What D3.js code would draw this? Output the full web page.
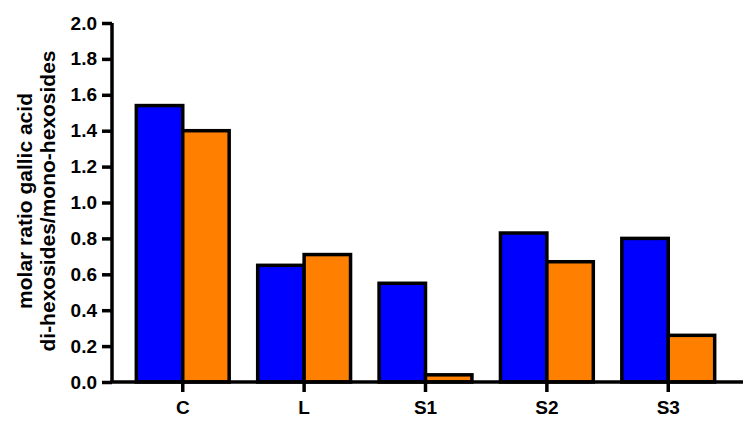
<!DOCTYPE html>
<html><head><meta charset="utf-8">
<script src="https://cdn.jsdelivr.net/npm/d3@7"></script>
<style>body{margin:0;background:#fff}</style>
</head><body>
<svg id="c" width="749" height="429"></svg>
<script>
const categories = ["C","L","S1","S2","S3"];
const seriesNames = ["blue","orange"];
const blueValues = [1.54,0.65,0.55,0.83,0.80];
const orangeValues = [1.40,0.71,0.04,0.67,0.26];
const yTicks = [0,0.2,0.4,0.6,0.8,1.0,1.2,1.4,1.6,1.8,2.0];
const colors = ["#0000ff","#ff8000"];

const svg = d3.select("#c");
const x0 = 122, x1 = 729, yTop = 23, yBot = 382;
const x = d3.scaleBand().domain(categories).range([x0, x1]).paddingInner(0.235).paddingOuter(0.118);
const xs = d3.scaleBand().domain(seriesNames).range([0, x.bandwidth()]);
const y = d3.scaleLinear().domain([0,2]).range([yBot, yTop]);
const font = "'Liberation Sans', Arial, sans-serif";

const data = categories.map((c,i)=>({c, v:[blueValues[i], orangeValues[i]]}));
const g = svg.append("g");
data.forEach(d=>{
  d.v.forEach((v,j)=>{
    g.append("rect")
      .attr("x", x(d.c)+xs(seriesNames[j]))
      .attr("y", y(v))
      .attr("width", xs.bandwidth())
      .attr("height", y(0)-y(v))
      .attr("fill", colors[j])
      .attr("stroke","#000").attr("stroke-width",3.5);
  });
});

const ya = svg.append("g").attr("transform","translate(112,0)")
  .call(d3.axisLeft(y).tickValues(yTicks).tickFormat(d3.format(".1f")).tickSize(10).tickPadding(5));
ya.select(".domain").attr("stroke-width",3.5).attr("d",`M0,${yTop}V${yBot}`);
ya.selectAll(".tick line").attr("stroke-width",3.5);
ya.selectAll("text").attr("font-family",font).attr("font-weight","bold").attr("font-size",19).attr("fill","#000");

const xa = svg.append("g").attr("transform",`translate(0,${yBot})`)
  .call(d3.axisBottom(x).tickSize(10).tickPadding(9));
xa.select(".domain").attr("stroke-width",3.5).attr("d",`M110,0H743`);
xa.selectAll(".tick line").attr("stroke-width",3.5);
xa.selectAll("text").attr("font-family",font).attr("font-weight","bold").attr("font-size",19).attr("fill","#000");

const t = svg.append("text").attr("transform","translate(0,201) rotate(-90)")
  .attr("text-anchor","middle").attr("font-family",font).attr("font-weight","bold").attr("font-size",21);
t.append("tspan").attr("x",0).attr("y",32).text("molar ratio gallic acid");
t.append("tspan").attr("x",0).attr("y",55).text("di-hexosides/mono-hexosides");
</script>
</body></html>
